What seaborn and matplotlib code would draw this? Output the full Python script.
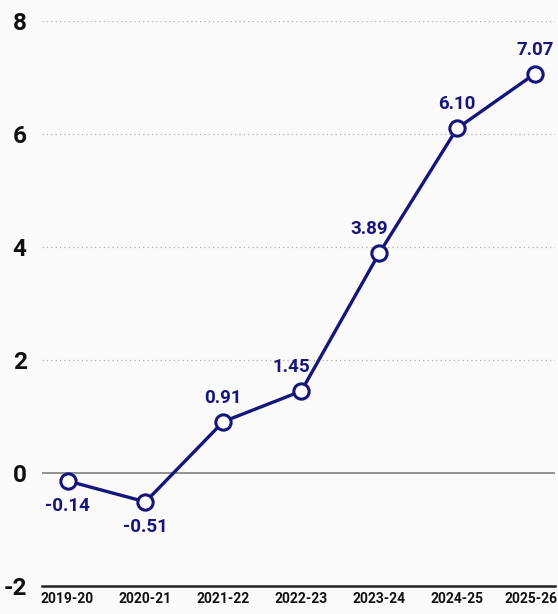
import matplotlib
matplotlib.use("Agg")
import matplotlib.pyplot as plt
import matplotlib.transforms as mtransforms
import seaborn as sns
import pandas as pd

# --- data ---
years = ["2019-20", "2020-21", "2021-22", "2022-23", "2023-24", "2024-25", "2025-26"]
values = [-0.14, -0.51, 0.91, 1.45, 3.89, 6.10, 7.07]
labels_below = ["2019-20", "2020-21"]
labels_left = ["2022-23", "2023-24"]
y_ticks = [-2, 0, 2, 4, 6, 8]

df = pd.DataFrame({"year": years, "value": values})

sns.set_theme(style="white")
plt.rcParams['font.family'] = ['Roboto', 'DejaVu Sans']
plt.rcParams['axes.unicode_minus'] = False
NAVY = "#15157a"
BG = "#fafafa"

fig = plt.figure(figsize=(5.58, 6.14), dpi=100, facecolor=BG)
ax = fig.add_axes([0.075, 0.0456, 0.92, 0.92])
ax.set_facecolor(BG)

sns.lineplot(data=df, x="year", y="value", ax=ax, color=NAVY, linewidth=2.4,
             marker="o", markersize=11, markerfacecolor="white",
             markeredgecolor=NAVY, markeredgewidth=2.2, zorder=5)

for i, (yr, v) in enumerate(zip(years, values)):
    off = -25 if yr in labels_below else 24
    dx = -10 if yr in labels_left else 0
    ax.annotate(f"{v:.2f}", (i, v), xytext=(dx, off), textcoords="offset pixels",
                ha="center", va="center", fontsize=13.5, fontweight="bold",
                color=NAVY)

ax.set_xlim(-0.33, 6.26)
ax.set_ylim(-2, 8)
ax.set_yticks(y_ticks)
for t in y_ticks[2:]:
    ax.axhline(t, color="#b0b0b0", linestyle=(0, (1, 2.5)), linewidth=0.9, zorder=1)
ax.axhline(0, color="#8a8a8a", linewidth=1.3, zorder=1)

sns.despine(ax=ax, left=True, top=True, right=True)
ax.spines['bottom'].set_color("#222222")
ax.spines['bottom'].set_linewidth(1.8)

ax.set_xlabel("")
ax.set_ylabel("")
ax.tick_params(axis="y", length=0, pad=11, labelsize=17.5, labelcolor="#111111")
ax.tick_params(axis="x", length=0, pad=4, labelsize=10, labelcolor="#111111")
for lbl in ax.get_yticklabels() + ax.get_xticklabels():
    lbl.set_fontweight("bold")

# last year label sits at the right edge, nudge it in a little
last = ax.get_xticklabels()[-1]
last.set_transform(last.get_transform() + mtransforms.ScaledTranslation(-4 / 100, 0, fig.dpi_scale_trans))

fig.savefig("out.png", dpi=100, facecolor=BG)
